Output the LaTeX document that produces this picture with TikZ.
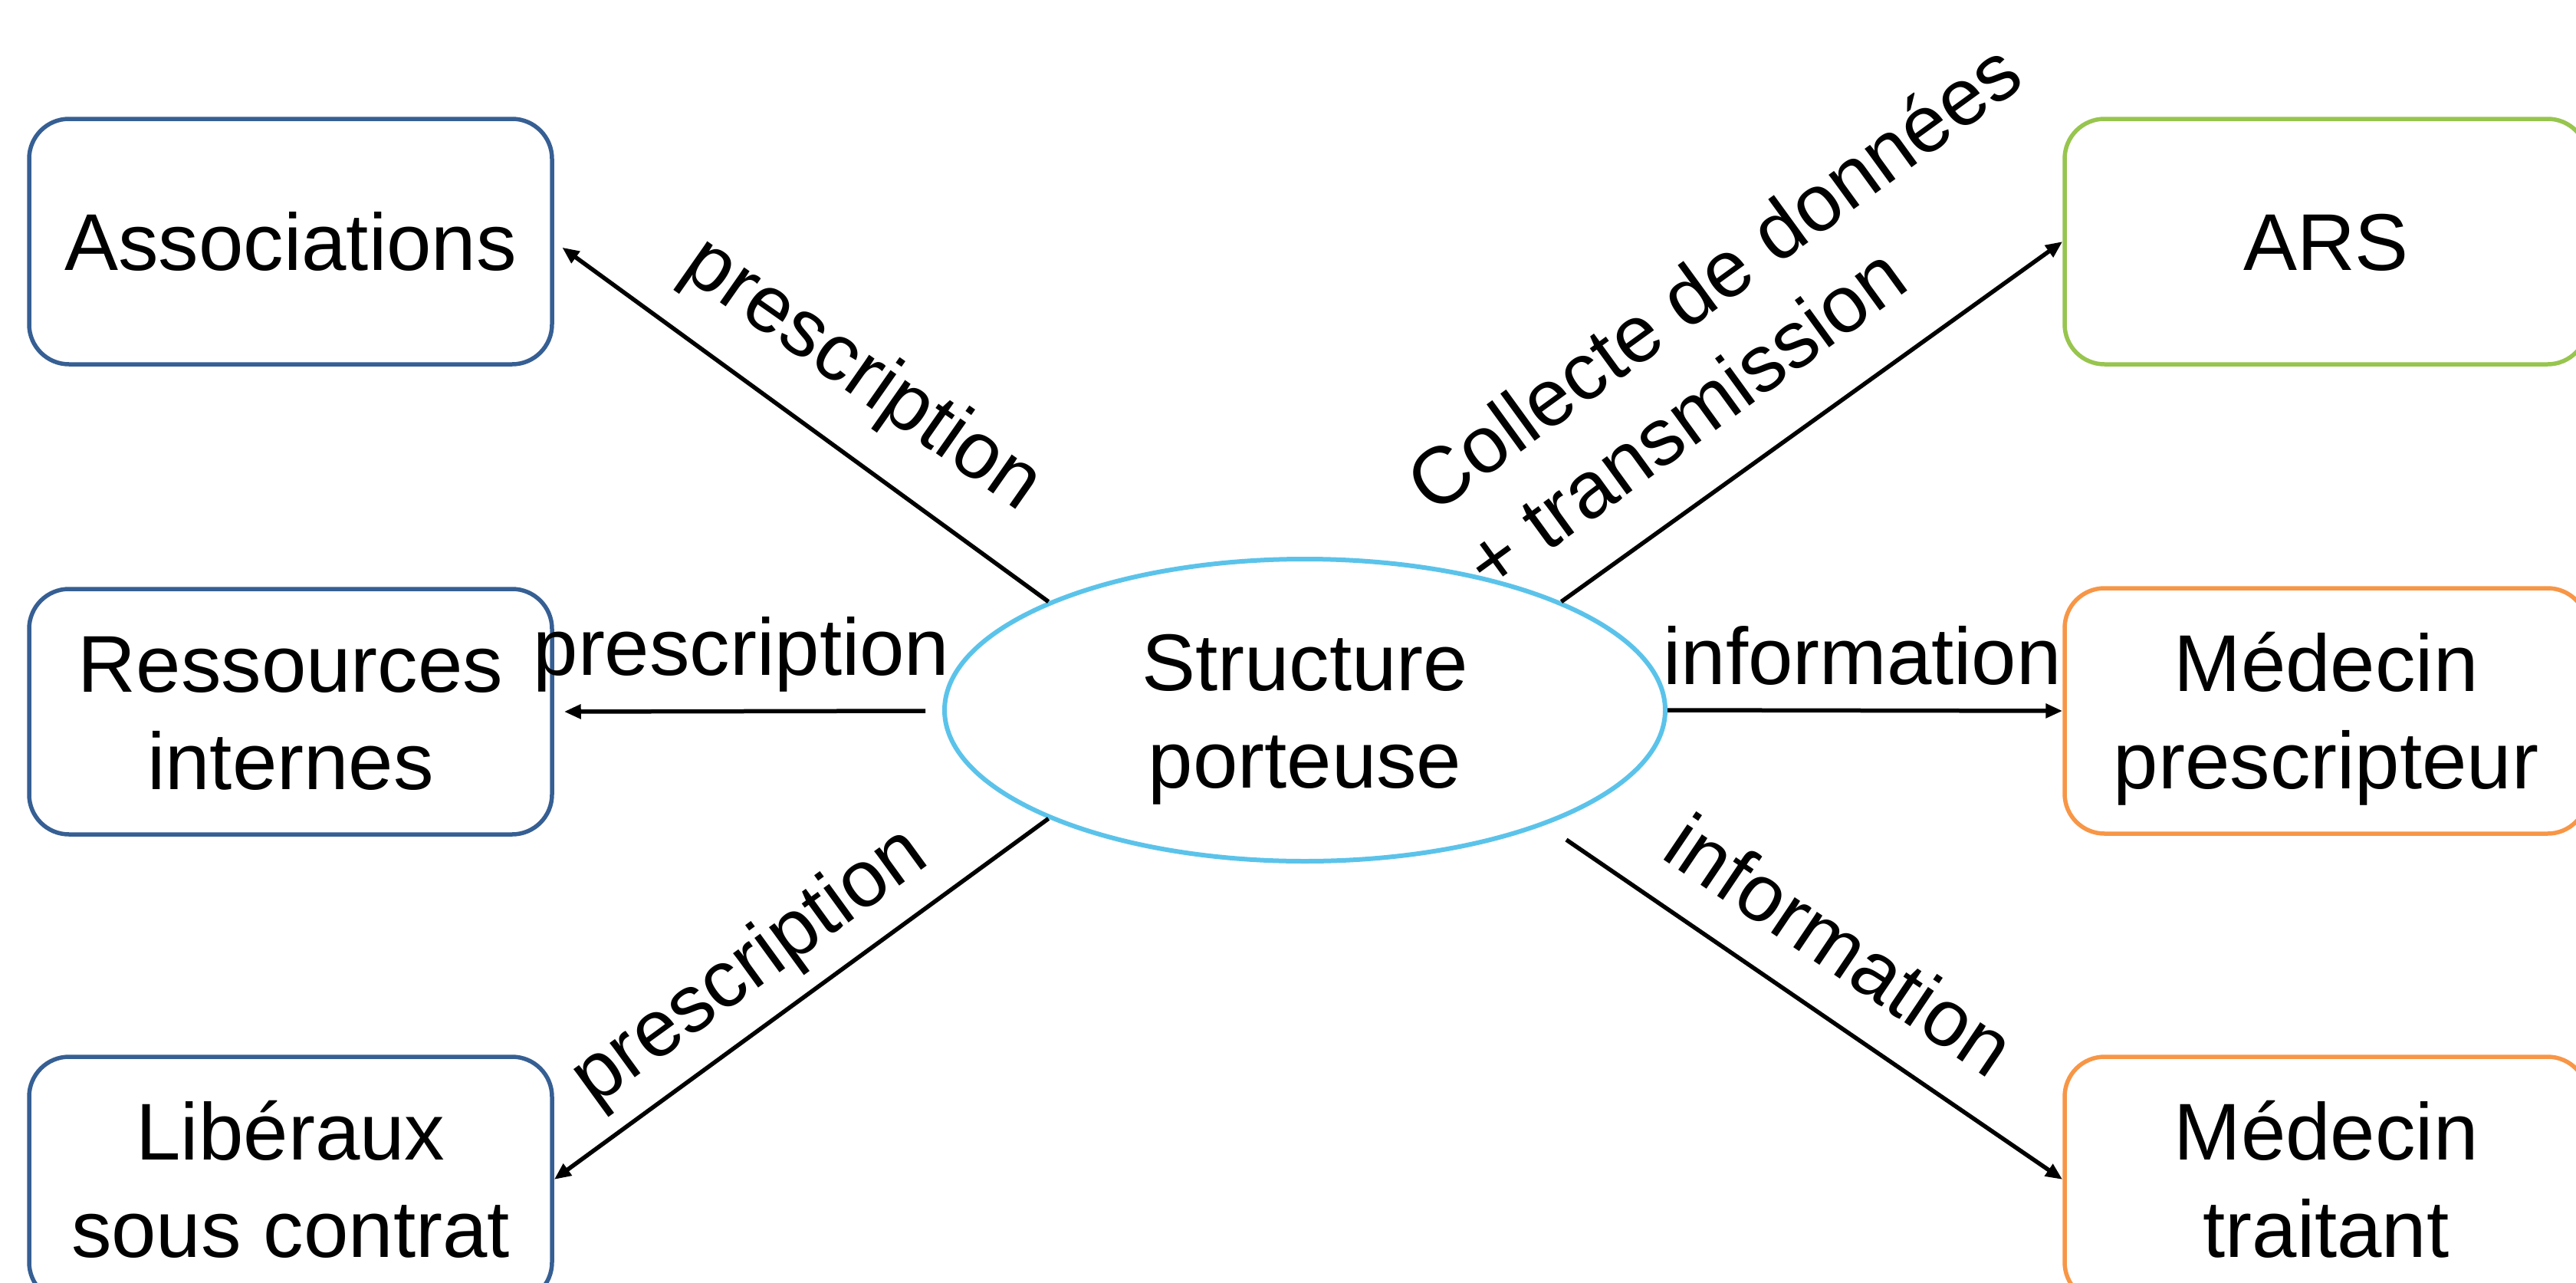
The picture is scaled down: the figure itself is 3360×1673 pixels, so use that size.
\documentclass[tikz,border=0pt]{standalone}
\usepackage{fontspec}
\setmainfont{Liberation Sans}
\usetikzlibrary{shapes.geometric,arrows.meta}
\definecolor{boxblue}{HTML}{365F93}
\definecolor{boxgreen}{HTML}{97C54E}
\definecolor{boxorange}{HTML}{F79646}
\definecolor{ellblue}{HTML}{5BC3EA}
\newcommand{\lineT}[1]{\smash{#1}\rule{0pt}{75pt}}
\begin{document}
\begin{tikzpicture}[x=1pt,y=-1pt,
  every node/.style={font=\fontsize{105}{127}\selectfont},
  actor/.style={draw, line width=5.5pt, rounded corners=52pt, minimum width=682pt,
    minimum height=320pt, align=center, inner sep=0pt},
  flow/.style={line width=5.5pt, -{Triangle[length=22pt,width=18pt]}},
  lbl/.style={text height=55pt, text depth=0pt, inner sep=0pt}]
\useasboundingbox (0,0) rectangle (3360,1673);

\node[actor, draw=boxblue] (assoc) at (379,315) {\lineT{Associations}};
\node[actor, draw=boxblue] (ress) at (379,928) {\lineT{Ressources}\\\lineT{internes}};
\node[actor, draw=boxblue] (lib) at (379,1538) {\lineT{Libéraux}\\\lineT{sous contrat}};
\node[actor, draw=boxgreen] (ars) at (3034,315) {\lineT{ARS}};
\node[actor, draw=boxorange] (medp) at (3034,927) {\lineT{Médecin}\\\lineT{prescripteur}};
\node[actor, draw=boxorange] (medt) at (3034,1538) {\lineT{Médecin}\\\lineT{traitant}};
\node[ellipse, draw=ellblue, line width=6pt, minimum width=940pt, minimum height=394pt,
  inner sep=0pt, align=center] (sp) at (1702,926) {\lineT{Structure}\\\lineT{porteuse}};

\coordinate (mlstart) at (1207,927);
\coordinate (brstart) at (2043,1095);

\draw[flow, shorten >=13pt] (sp.north west) -- (assoc.east);
\draw[flow, shorten >=13pt] (mlstart) -- (ress.east);
\draw[flow] (sp.south west) -- (lib.east);
\draw[flow] (sp.north east) -- (ars.west);
\draw[flow] (sp.east) -- (medp.west);
\draw[flow] (brstart) -- (medt.west);

\node[lbl, anchor=base] (l2) at (967,880) {prescription};
\node[lbl, anchor=base] (l5) at (2429,892) {information};
\node[lbl, rotate=-35] (l1) at (1124,490) {prescription};
\node[lbl, rotate=36] (l3) at (979,1262) {prescription};
\node[lbl, rotate=-34] (l6) at (2395,1240) {information};
\node[rotate=36, align=left, inner sep=0pt] (l4) at (2272,412)
  {\lineT{Collecte de données}\\\lineT{+ transmission}};
\end{tikzpicture}
\end{document}
